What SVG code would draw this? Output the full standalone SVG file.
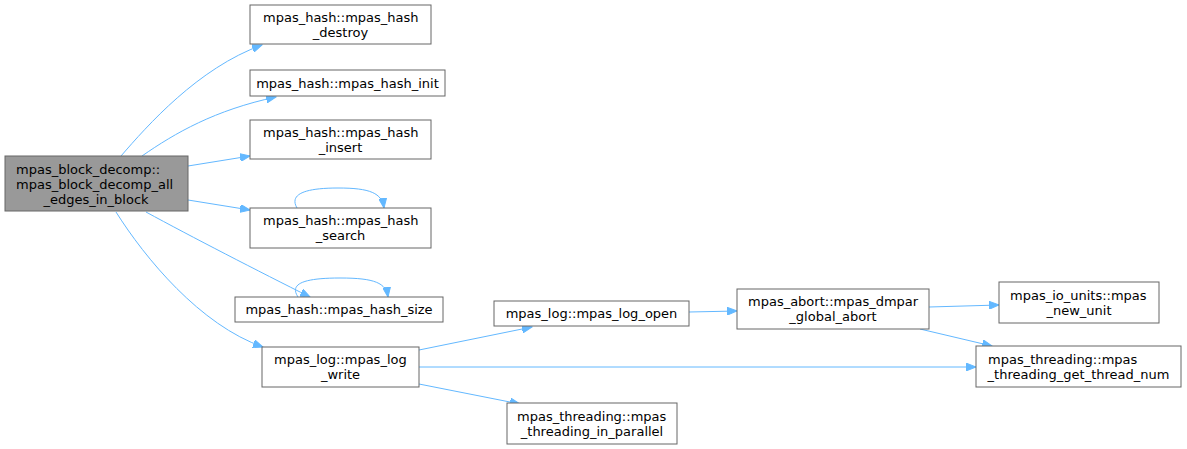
<svg xmlns="http://www.w3.org/2000/svg" width="1187" height="449" viewBox="0 0 1187 449">
<defs>
<style>
.n rect{fill:#ffffff;stroke:#666666;stroke-width:1}
.m rect{fill:#999999;stroke:#666666;stroke-width:1}
text{font-family:"DejaVu Sans",sans-serif;font-size:13px;fill:#000000}
.c{text-anchor:middle}
.e path{fill:none;stroke:#63b8ff;stroke-width:1}
</style>
<marker id="ah" markerUnits="userSpaceOnUse" markerWidth="11" markerHeight="8" refX="10" refY="4" orient="auto">
<path d="M0,0 L10,4 L0,8 z" fill="#63b8ff" stroke="#63b8ff"/>
</marker>
</defs>
<rect width="1187" height="449" fill="#ffffff"/>
<g id="edges" class="e">
<path marker-end="url(#ah)" d="M121,156 C147,126 198,68 262,45"/>
<path marker-end="url(#ah)" d="M142,156 C175,133 215,110 276,97"/>
<path marker-end="url(#ah)" d="M188,166 L250,156"/>
<path marker-end="url(#ah)" d="M188,200 L250,210"/>
<path marker-end="url(#ah)" d="M146,212 C190,236 260,272 310,297"/>
<path marker-end="url(#ah)" d="M116,212 C145,258 200,325 263,347"/>
<path marker-end="url(#ah)" d="M297,208 C290,196 300,188 338,188 C370,188 382,193 384,208"/>
<path marker-end="url(#ah)" d="M298,297 C290,285 300,278 340,278 C375,278 386,283 388,297"/>
<path marker-end="url(#ah)" d="M419,350 L532,327"/>
<path marker-end="url(#ah)" d="M419,367 L976,367"/>
<path marker-end="url(#ah)" d="M419,384 L520,404"/>
<path marker-end="url(#ah)" d="M689,312 L737,311"/>
<path marker-end="url(#ah)" d="M929,307 L999,305"/>
<path marker-end="url(#ah)" d="M920,329 L992,346"/>
</g>
<g id="node_main" class="m">
<rect x="5" y="156" width="183" height="55"/>
<text x="16" y="173.5">mpas_block_decomp::</text>
<text x="16" y="188.5">mpas_block_decomp_all</text>
<text class="c" x="96" y="203.5">_edges_in_block</text>
</g>
<g id="node_destroy" class="n">
<rect x="250" y="5" width="181" height="39"/>
<text x="263" y="21.5">mpas_hash::mpas_hash</text>
<text class="c" x="340.5" y="36.5">_destroy</text>
</g>
<g id="node_init" class="n">
<rect x="250" y="70" width="195" height="26"/>
<text class="c" x="347.5" y="87.5">mpas_hash::mpas_hash_init</text>
</g>
<g id="node_insert" class="n">
<rect x="250" y="120" width="181" height="39"/>
<text x="263" y="136.5">mpas_hash::mpas_hash</text>
<text class="c" x="340.5" y="151.5">_insert</text>
</g>
<g id="node_search" class="n">
<rect x="250" y="208" width="181" height="40"/>
<text x="263" y="225">mpas_hash::mpas_hash</text>
<text class="c" x="340.5" y="240">_search</text>
</g>
<g id="node_size" class="n">
<rect x="235" y="297" width="208" height="25"/>
<text class="c" x="339" y="314">mpas_hash::mpas_hash_size</text>
</g>
<g id="node_log_write" class="n">
<rect x="262" y="347" width="157" height="40"/>
<text x="274" y="364">mpas_log::mpas_log</text>
<text class="c" x="340.5" y="379">_write</text>
</g>
<g id="node_log_open" class="n">
<rect x="494" y="301" width="195" height="25"/>
<text class="c" x="591.5" y="318">mpas_log::mpas_log_open</text>
</g>
<g id="node_in_parallel" class="n">
<rect x="507" y="403" width="170" height="41"/>
<text x="517" y="420.5">mpas_threading::mpas</text>
<text class="c" x="592" y="435.5">_threading_in_parallel</text>
</g>
<g id="node_abort" class="n">
<rect x="737" y="289" width="192" height="40"/>
<text x="748" y="306">mpas_abort::mpas_dmpar</text>
<text class="c" x="833" y="321">_global_abort</text>
</g>
<g id="node_new_unit" class="n">
<rect x="999" y="282" width="160" height="41"/>
<text x="1010" y="299.5">mpas_io_units::mpas</text>
<text class="c" x="1079" y="314.5">_new_unit</text>
</g>
<g id="node_thread_num" class="n">
<rect x="976" y="346" width="205" height="41"/>
<text x="988" y="363.5">mpas_threading::mpas</text>
<text class="c" x="1078.5" y="378.5">_threading_get_thread_num</text>
</g>
</svg>
